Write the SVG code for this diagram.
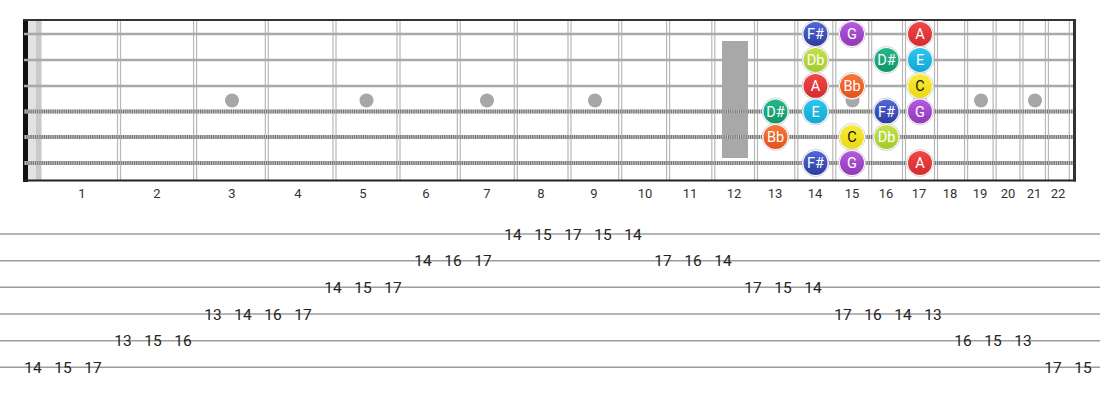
<svg xmlns="http://www.w3.org/2000/svg" width="1100" height="400" viewBox="0 0 1100 400">
<style>
.fret{stroke:#b8b8b8;stroke-width:1.2}
.plain{stroke:#a9a9a9;stroke-width:2.6}
.woundA{stroke:#c4c4c4;stroke-width:4}
.woundB{stroke:#727272;stroke-width:4;stroke-dasharray:1.1 1.1}
.dot{fill:#a7a7a7}
.fn{font-family:Roboto,"Liberation Sans",sans-serif;font-size:13px;fill:#333;text-anchor:middle}
.tabl{stroke:#9c9c9c;stroke-width:1.6}
.tab{font-family:Roboto,"Liberation Sans",sans-serif;font-size:15.5px;fill:#222;text-anchor:middle}
.ring{fill:#fff;stroke:#c8c8c8;stroke-width:0.8}
.nt{font-family:Roboto,"Liberation Sans",sans-serif;font-size:14.5px;fill:#fff;text-anchor:middle}
.ntk{fill:#111}
</style>
<defs>
<linearGradient id="gFs" x1="0" y1="0" x2="0" y2="1"><stop offset="0" stop-color="#5068d8"/><stop offset="1" stop-color="#2b3c9e"/></linearGradient>
<linearGradient id="gG" x1="0" y1="0" x2="0" y2="1"><stop offset="0" stop-color="#b45ade"/><stop offset="1" stop-color="#9038b8"/></linearGradient>
<linearGradient id="gA" x1="0" y1="0" x2="0" y2="1"><stop offset="0" stop-color="#f04848"/><stop offset="1" stop-color="#d42a2e"/></linearGradient>
<linearGradient id="gDb" x1="0" y1="0" x2="0" y2="1"><stop offset="0" stop-color="#c4e24a"/><stop offset="1" stop-color="#a2ca2c"/></linearGradient>
<linearGradient id="gDs" x1="0" y1="0" x2="0" y2="1"><stop offset="0" stop-color="#24b88a"/><stop offset="1" stop-color="#10946a"/></linearGradient>
<linearGradient id="gE" x1="0" y1="0" x2="0" y2="1"><stop offset="0" stop-color="#2ec6ee"/><stop offset="1" stop-color="#12a6d6"/></linearGradient>
<linearGradient id="gBb" x1="0" y1="0" x2="0" y2="1"><stop offset="0" stop-color="#f8773a"/><stop offset="1" stop-color="#e2521c"/></linearGradient>
<linearGradient id="gC" x1="0" y1="0" x2="0" y2="1"><stop offset="0" stop-color="#f8ec3a"/><stop offset="1" stop-color="#ead814"/></linearGradient>
</defs>
<rect width="1100" height="400" fill="#fff"/>
<g id="fretboard">
<rect x="28" y="20" width="14" height="160" fill="#e2e2e2"/>
<rect x="36" y="20" width="5" height="160" fill="#c9c9c9"/>
<g id="frets">
<line class="fret" x1="117.5" y1="20" x2="117.5" y2="180"/><line class="fret" x1="120.5" y1="20" x2="120.5" y2="180"/>
<line class="fret" x1="193.6" y1="20" x2="193.6" y2="180"/><line class="fret" x1="196.6" y1="20" x2="196.6" y2="180"/>
<line class="fret" x1="265.3" y1="20" x2="265.3" y2="180"/><line class="fret" x1="268.3" y1="20" x2="268.3" y2="180"/>
<line class="fret" x1="333" y1="20" x2="333" y2="180"/><line class="fret" x1="336" y1="20" x2="336" y2="180"/>
<line class="fret" x1="397" y1="20" x2="397" y2="180"/><line class="fret" x1="400" y1="20" x2="400" y2="180"/>
<line class="fret" x1="457.3" y1="20" x2="457.3" y2="180"/><line class="fret" x1="460.3" y1="20" x2="460.3" y2="180"/>
<line class="fret" x1="514.3" y1="20" x2="514.3" y2="180"/><line class="fret" x1="517.3" y1="20" x2="517.3" y2="180"/>
<line class="fret" x1="568" y1="20" x2="568" y2="180"/><line class="fret" x1="571" y1="20" x2="571" y2="180"/>
<line class="fret" x1="618.7" y1="20" x2="618.7" y2="180"/><line class="fret" x1="621.7" y1="20" x2="621.7" y2="180"/>
<line class="fret" x1="666.6" y1="20" x2="666.6" y2="180"/><line class="fret" x1="669.6" y1="20" x2="669.6" y2="180"/>
<line class="fret" x1="711.8" y1="20" x2="711.8" y2="180"/><line class="fret" x1="714.8" y1="20" x2="714.8" y2="180"/>
<line class="fret" x1="754.5" y1="20" x2="754.5" y2="180"/><line class="fret" x1="757.5" y1="20" x2="757.5" y2="180"/>
<line class="fret" x1="794.8" y1="20" x2="794.8" y2="180"/><line class="fret" x1="797.8" y1="20" x2="797.8" y2="180"/>
<line class="fret" x1="832.8" y1="20" x2="832.8" y2="180"/><line class="fret" x1="835.8" y1="20" x2="835.8" y2="180"/>
<line class="fret" x1="868.7" y1="20" x2="868.7" y2="180"/><line class="fret" x1="871.7" y1="20" x2="871.7" y2="180"/>
<line class="fret" x1="902.5" y1="20" x2="902.5" y2="180"/><line class="fret" x1="905.5" y1="20" x2="905.5" y2="180"/>
<line class="fret" x1="934.5" y1="20" x2="934.5" y2="180"/><line class="fret" x1="937.5" y1="20" x2="937.5" y2="180"/>
<line class="fret" x1="964.6" y1="20" x2="964.6" y2="180"/><line class="fret" x1="967.6" y1="20" x2="967.6" y2="180"/>
<line class="fret" x1="993.1" y1="20" x2="993.1" y2="180"/><line class="fret" x1="996.1" y1="20" x2="996.1" y2="180"/>
<line class="fret" x1="1020" y1="20" x2="1020" y2="180"/><line class="fret" x1="1023" y1="20" x2="1023" y2="180"/>
<line class="fret" x1="1045.4" y1="20" x2="1045.4" y2="180"/><line class="fret" x1="1048.4" y1="20" x2="1048.4" y2="180"/>
<line class="fret" x1="1069.3" y1="20" x2="1069.3" y2="180"/>
</g>
<rect x="722" y="41" width="26" height="117" fill="#a8a8a8"/>
<g id="inlays">
<circle class="dot" cx="232" cy="100.5" r="7"/>
<circle class="dot" cx="366.5" cy="100.5" r="7"/>
<circle class="dot" cx="487" cy="100.5" r="7"/>
<circle class="dot" cx="595" cy="100.5" r="7"/>
<circle class="dot" cx="852.5" cy="100.5" r="7"/>
<circle class="dot" cx="920" cy="100.5" r="7"/>
<circle class="dot" cx="981" cy="100.5" r="7"/>
<circle class="dot" cx="1035" cy="100.5" r="7"/>
</g>
<rect x="23" y="19" width="5" height="163" fill="#111"/>
<g id="strings">
<line class="plain" x1="24" y1="34" x2="1074" y2="34"/>
<line class="plain" x1="24" y1="60" x2="1074" y2="60"/>
<line class="plain" x1="24" y1="86" x2="1074" y2="86"/>
<line class="woundA" x1="24" y1="111.5" x2="1074" y2="111.5"/><line class="woundB" x1="24" y1="111.5" x2="1074" y2="111.5"/>
<line class="woundA" x1="24" y1="137" x2="1074" y2="137"/><line class="woundB" x1="24" y1="137" x2="1074" y2="137"/>
<line class="woundA" x1="24" y1="163" x2="1074" y2="163"/><line class="woundB" x1="24" y1="163" x2="1074" y2="163"/>
</g>
<line x1="23" y1="20" x2="1076" y2="20" stroke="#333" stroke-width="2"/>
<line x1="23" y1="180.5" x2="1076" y2="180.5" stroke="#222" stroke-width="2"/>
<line x1="1074.5" y1="19" x2="1074.5" y2="181.5" stroke="#333" stroke-width="3"/>
</g>
<g id="fret-numbers">
<text class="fn" x="82" y="198">1</text>
<text class="fn" x="157" y="198">2</text>
<text class="fn" x="232" y="198">3</text>
<text class="fn" x="298" y="198">4</text>
<text class="fn" x="363" y="198">5</text>
<text class="fn" x="426" y="198">6</text>
<text class="fn" x="487" y="198">7</text>
<text class="fn" x="541" y="198">8</text>
<text class="fn" x="594" y="198">9</text>
<text class="fn" x="645" y="198">10</text>
<text class="fn" x="690" y="198">11</text>
<text class="fn" x="734" y="198">12</text>
<text class="fn" x="775" y="198">13</text>
<text class="fn" x="815" y="198">14</text>
<text class="fn" x="852" y="198">15</text>
<text class="fn" x="886" y="198">16</text>
<text class="fn" x="919" y="198">17</text>
<text class="fn" x="950" y="198">18</text>
<text class="fn" x="980" y="198">19</text>
<text class="fn" x="1008" y="198">20</text>
<text class="fn" x="1034" y="198">21</text>
<text class="fn" x="1058" y="198">22</text>
</g>
<g id="notes">
<g id="n1-14"><circle class="ring" cx="815.5" cy="34" r="13.5"/><circle cx="815.5" cy="34" r="12" fill="url(#gFs)"/><text class="nt" x="815.5" y="39">F#</text></g>
<g id="n1-15"><circle class="ring" cx="852" cy="34" r="13.5"/><circle cx="852" cy="34" r="12" fill="url(#gG)"/><text class="nt" x="852" y="39">G</text></g>
<g id="n1-17"><circle class="ring" cx="920" cy="34" r="13.5"/><circle cx="920" cy="34" r="12" fill="url(#gA)"/><text class="nt" x="920" y="39">A</text></g>
<g id="n2-14"><circle class="ring" cx="815.5" cy="60" r="13.5"/><circle cx="815.5" cy="60" r="12" fill="url(#gDb)"/><text class="nt" x="815.5" y="65">Db</text></g>
<g id="n2-16"><circle class="ring" cx="886.5" cy="60" r="13.5"/><circle cx="886.5" cy="60" r="12" fill="url(#gDs)"/><text class="nt" x="886.5" y="65">D#</text></g>
<g id="n2-17"><circle class="ring" cx="920" cy="60" r="13.5"/><circle cx="920" cy="60" r="12" fill="url(#gE)"/><text class="nt" x="920" y="65">E</text></g>
<g id="n3-14"><circle class="ring" cx="815.5" cy="86" r="13.5"/><circle cx="815.5" cy="86" r="12" fill="url(#gA)"/><text class="nt" x="815.5" y="91">A</text></g>
<g id="n3-15"><circle class="ring" cx="852" cy="86" r="13.5"/><circle cx="852" cy="86" r="12" fill="url(#gBb)"/><text class="nt" x="852" y="91">Bb</text></g>
<g id="n3-17"><circle class="ring" cx="920" cy="86" r="13.5"/><circle cx="920" cy="86" r="12" fill="url(#gC)"/><text class="nt ntk" x="920" y="91">C</text></g>
<g id="n4-13"><circle class="ring" cx="775.5" cy="111.5" r="13.5"/><circle cx="775.5" cy="111.5" r="12" fill="url(#gDs)"/><text class="nt" x="775.5" y="116.5">D#</text></g>
<g id="n4-14"><circle class="ring" cx="815.5" cy="111.5" r="13.5"/><circle cx="815.5" cy="111.5" r="12" fill="url(#gE)"/><text class="nt" x="815.5" y="116.5">E</text></g>
<g id="n4-16"><circle class="ring" cx="886.5" cy="111.5" r="13.5"/><circle cx="886.5" cy="111.5" r="12" fill="url(#gFs)"/><text class="nt" x="886.5" y="116.5">F#</text></g>
<g id="n4-17"><circle class="ring" cx="920" cy="111.5" r="13.5"/><circle cx="920" cy="111.5" r="12" fill="url(#gG)"/><text class="nt" x="920" y="116.5">G</text></g>
<g id="n5-13"><circle class="ring" cx="775.5" cy="137" r="13.5"/><circle cx="775.5" cy="137" r="12" fill="url(#gBb)"/><text class="nt" x="775.5" y="142">Bb</text></g>
<g id="n5-15"><circle class="ring" cx="852" cy="137" r="13.5"/><circle cx="852" cy="137" r="12" fill="url(#gC)"/><text class="nt ntk" x="852" y="142">C</text></g>
<g id="n5-16"><circle class="ring" cx="886.5" cy="137" r="13.5"/><circle cx="886.5" cy="137" r="12" fill="url(#gDb)"/><text class="nt" x="886.5" y="142">Db</text></g>
<g id="n6-14"><circle class="ring" cx="815.5" cy="163" r="13.5"/><circle cx="815.5" cy="163" r="12" fill="url(#gFs)"/><text class="nt" x="815.5" y="168">F#</text></g>
<g id="n6-15"><circle class="ring" cx="852" cy="163" r="13.5"/><circle cx="852" cy="163" r="12" fill="url(#gG)"/><text class="nt" x="852" y="168">G</text></g>
<g id="n6-17"><circle class="ring" cx="920" cy="163" r="13.5"/><circle cx="920" cy="163" r="12" fill="url(#gA)"/><text class="nt" x="920" y="168">A</text></g>
</g>
<g id="tab-lines">
<line class="tabl" x1="0" y1="234" x2="1100" y2="234"/>
<line class="tabl" x1="0" y1="260.7" x2="1100" y2="260.7"/>
<line class="tabl" x1="0" y1="287.3" x2="1100" y2="287.3"/>
<line class="tabl" x1="0" y1="314" x2="1100" y2="314"/>
<line class="tabl" x1="0" y1="340.7" x2="1100" y2="340.7"/>
<line class="tabl" x1="0" y1="367.3" x2="1100" y2="367.3"/>
</g>
<g id="tab-numbers">
<text class="tab" x="33" y="373">14</text><text class="tab" x="63" y="373">15</text><text class="tab" x="93" y="373">17</text>
<text class="tab" x="123" y="346">13</text><text class="tab" x="153" y="346">15</text><text class="tab" x="183" y="346">16</text>
<text class="tab" x="213" y="319.5">13</text><text class="tab" x="243" y="319.5">14</text><text class="tab" x="273" y="319.5">16</text><text class="tab" x="303" y="319.5">17</text>
<text class="tab" x="333" y="293">14</text><text class="tab" x="363" y="293">15</text><text class="tab" x="393" y="293">17</text>
<text class="tab" x="423" y="266">14</text><text class="tab" x="453" y="266">16</text><text class="tab" x="483" y="266">17</text>
<text class="tab" x="513" y="239.5">14</text><text class="tab" x="543" y="239.5">15</text><text class="tab" x="573" y="239.5">17</text><text class="tab" x="603" y="239.5">15</text><text class="tab" x="633" y="239.5">14</text>
<text class="tab" x="663" y="266">17</text><text class="tab" x="693" y="266">16</text><text class="tab" x="723" y="266">14</text>
<text class="tab" x="753" y="293">17</text><text class="tab" x="783" y="293">15</text><text class="tab" x="813" y="293">14</text>
<text class="tab" x="843" y="319.5">17</text><text class="tab" x="873" y="319.5">16</text><text class="tab" x="903" y="319.5">14</text><text class="tab" x="933" y="319.5">13</text>
<text class="tab" x="963" y="346">16</text><text class="tab" x="993" y="346">15</text><text class="tab" x="1023" y="346">13</text>
<text class="tab" x="1053" y="373">17</text><text class="tab" x="1083" y="373">15</text>
</g>
</svg>
